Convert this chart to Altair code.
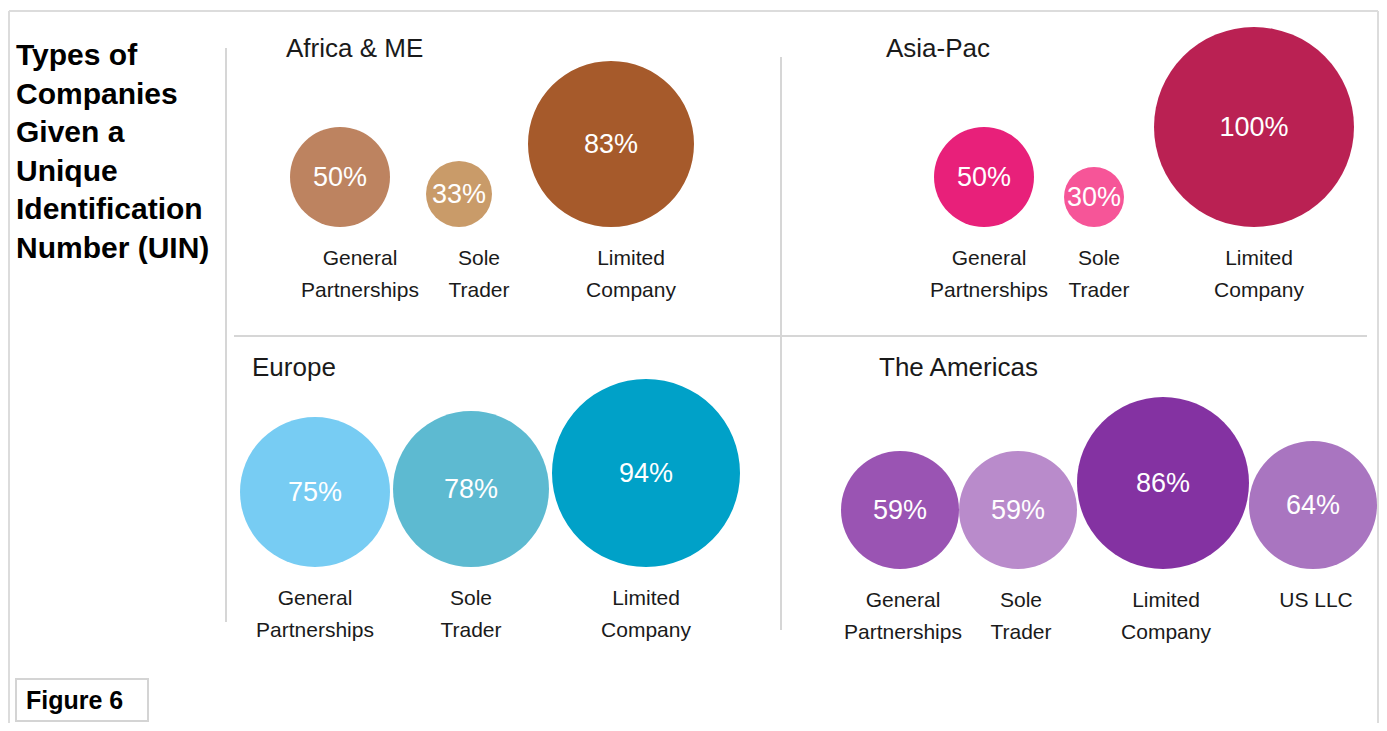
import altair as alt
import pandas as pd

# ---------------- data ----------------
regions = ["Africa & ME", "Asia-Pac", "Europe", "The Americas"]

africa_types = ["General\nPartnerships", "Sole\nTrader", "Limited\nCompany"]
africa_values = [50, 33, 83]

asia_types = ["General\nPartnerships", "Sole\nTrader", "Limited\nCompany"]
asia_values = [50, 30, 100]

europe_types = ["General\nPartnerships", "Sole\nTrader", "Limited\nCompany"]
europe_values = [75, 78, 94]

americas_types = ["General\nPartnerships", "Sole\nTrader", "Limited\nCompany", "US LLC"]
americas_values = [59, 59, 86, 64]

title_text = "Types of\nCompanies\nGiven a\nUnique\nIdentification\nNumber (UIN)"
figure_label = "Figure 6"

# ---------------- styles / layout ----------------
bubble_colors = {
    "Africa & ME": ["#BD8360", "#C99B69", "#A65A2B"],
    "Asia-Pac": ["#E8207A", "#F65598", "#BA2153"],
    "Europe": ["#77CCF3", "#5DBAD1", "#00A1C8"],
    "The Americas": ["#9A54B3", "#B98BCB", "#8432A2", "#A975C0"],
}
# per-region panel layout (pixels inside the chart)
layout = pd.DataFrame({
    "region": regions,
    "x0": [282, 926, 232, 833],        # left edge of first bubble
    "base": [219, 219, 559, 561],      # bottom line the bubbles sit on
    "gap": [36, 30, 3, 0],             # gap between bubbles
    "shift": [20, 5, 0, 3],            # label shift
    "tx": [278, 878, 244, 871],        # region title position
    "ty": [49, 49, 368, 368],
})

K = 1.0  # pixels of radius per percentage point
W, H = 1371, 715
FONT = "Liberation Sans"
INK = "#1a1a1a"
LINE = "#d6d6d6"

rows = []
for reg, types, vals in [
    ("Africa & ME", africa_types, africa_values),
    ("Asia-Pac", asia_types, asia_values),
    ("Europe", europe_types, europe_values),
    ("The Americas", americas_types, americas_values),
]:
    for i, (t, v) in enumerate(zip(types, vals)):
        rows.append({"region": reg, "type": t, "value": v, "order": i,
                     "key": f"{reg}|{i}", "pct": f"{v}%"})
df = pd.DataFrame(rows).merge(layout, on="region")

keys = list(df["key"])
cols = [bubble_colors[r][i] for r, i in zip(df["region"], df["order"])]

xs = alt.Scale(domain=[0, W], range=[0, W], nice=False, zero=False)
ys = alt.Scale(domain=[0, H], range=[0, H], nice=False, zero=False)

base = alt.Chart(df).transform_window(
    cum="sum(value)", idx="row_number()",
    groupby=["region"], sort=[alt.SortField("order")], frame=[None, 0]
).transform_calculate(
    cx=f"datum.x0 + {K}*(2*datum.cum - datum.value) + datum.gap*(datum.idx-1)",
    cy=f"datum.base - {K}*datum.value",
).transform_calculate(
    lx="datum.cx + datum.shift",
    ly="datum.base + 38",
)

circles = base.mark_circle(opacity=1).encode(
    x=alt.X("cx:Q", scale=xs, axis=None),
    y=alt.Y("cy:Q", scale=ys, axis=None),
    size=alt.Size("value:Q", scale=alt.Scale(type="pow", exponent=2, domain=[0, 100],
                                              range=[0, (200 * K) ** 2]), legend=None),
    color=alt.Color("key:N", scale=alt.Scale(domain=keys, range=cols), legend=None),
)

pct = base.mark_text(color="white", fontSize=27, font=FONT, baseline="middle",
                     align="center", dy=1).encode(
    x=alt.X("cx:Q", scale=xs, axis=None),
    y=alt.Y("cy:Q", scale=ys, axis=None),
    text="pct:N",
)

labels = base.mark_text(color=INK, fontSize=21, font=FONT, baseline="alphabetic",
                        align="center", lineBreak="\n", lineHeight=32).encode(
    x=alt.X("lx:Q", scale=xs, axis=None),
    y=alt.Y("ly:Q", scale=ys, axis=None),
    text="type:N",
)

region_titles = alt.Chart(layout).mark_text(color=INK, fontSize=26, font=FONT,
                                            baseline="alphabetic", align="left").encode(
    x=alt.X("tx:Q", scale=xs, axis=None),
    y=alt.Y("ty:Q", scale=ys, axis=None),
    text="region:N",
)

one = pd.DataFrame({"a": [0]})


def rule(x, y, x2=None, y2=None, color=LINE, w=2):
    enc = {"x": alt.value(x), "y": alt.value(y)}
    if x2 is not None:
        enc["x2"] = alt.value(x2)
    if y2 is not None:
        enc["y2"] = alt.value(y2)
    return alt.Chart(one).mark_rule(color=color, strokeWidth=w).encode(**enc)


decor = [
    rule(1, 3, x2=1370, y2=3, color="#dcdcdc"),      # frame top
    rule(1, 3, x2=1, y2=H, color="#dcdcdc"),         # frame left
    rule(1370, 3, x2=1370, y2=H, color="#dcdcdc"),   # frame right
    rule(218, 40, x2=218, y2=614),                   # left separator
    rule(773, 49, x2=773, y2=622),                   # middle separator
    rule(226, 328, x2=1359, y2=328),                 # horizontal separator
]

main_title = alt.Chart(one).mark_text(text=title_text, lineBreak="\n", lineHeight=38.5,
                                      fontSize=30, fontWeight="bold", font=FONT,
                                      color="black", align="left",
                                      baseline="alphabetic").encode(
    x=alt.value(8), y=alt.value(57)
)

fig_box = alt.Chart(one).mark_rect(fill="white", stroke="#d4d4d4", strokeWidth=2).encode(
    x=alt.value(8), x2=alt.value(140), y=alt.value(671), y2=alt.value(713)
)
fig_text = alt.Chart(one).mark_text(text=figure_label, fontSize=25, fontWeight="bold",
                                    font=FONT, color="black", align="left",
                                    baseline="middle").encode(
    x=alt.value(18), y=alt.value(693)
)

chart = alt.layer(
    *decor, circles, pct, labels, region_titles, main_title, fig_box, fig_text
).properties(
    width=W, height=H, autosize=alt.AutoSizeParams(type="none"), padding=0,
    background="white"
).configure_view(stroke=None)

chart.save("out.html", embed_options={"renderer": "svg", "actions": False})
